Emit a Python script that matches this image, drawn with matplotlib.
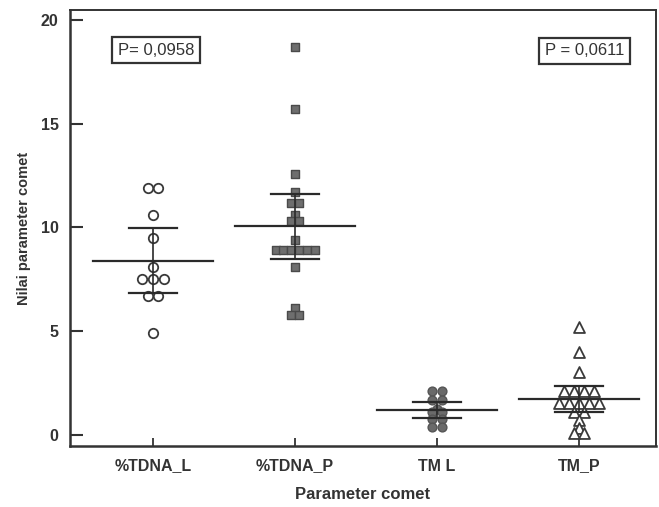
import matplotlib
matplotlib.use("Agg")
import matplotlib.pyplot as plt
import numpy as np

plt.rcParams['font.family'] = ['Liberation Sans', 'DejaVu Sans']

categories = ["%TDNA_L", "%TDNA_P", "TM L", "TM_P"]

tdna_l = [11.9, 11.9, 10.6, 9.5, 8.1, 7.5, 7.5, 7.5, 6.7, 6.7, 4.9]
tdna_p = [18.7, 15.7, 12.6, 11.7, 11.2, 11.2, 10.6, 10.3, 10.3, 9.4,
          8.9, 8.9, 8.9, 8.9, 8.9, 8.9, 8.1, 6.1, 5.8, 5.8]
tm_l = [2.1, 2.1, 1.7, 1.7, 1.25, 1.1, 1.1, 0.75, 0.75, 0.4, 0.4]
tm_p = [5.2, 4.0, 3.05, 2.1, 2.1, 2.1, 2.1, 1.55, 1.55, 1.55, 1.55, 1.55,
        1.1, 1.1, 0.7, 0.35, 0.1, 0.1]

means = [8.4, 10.05, 1.2, 1.72]
upper = [9.98, 11.62, 1.6, 2.35]
lower = [6.84, 8.5, 0.82, 1.1]

p_left = "P= 0,0958"
p_right = "P = 0,0611"

groups = [tdna_l, tdna_p, tm_l, tm_p]
styles = [
    dict(marker='o', s=46, facecolors='white', edgecolors='#3a3a3a', linewidths=1.3),
    dict(marker='s', s=34, facecolors='#6e6e6e', edgecolors='#4a4a4a', linewidths=1.0),
    dict(marker='o', s=40, facecolors='#6a6a6a', edgecolors='#555555', linewidths=1.0),
    dict(marker='^', s=62, facecolors='white', edgecolors='#3a3a3a', linewidths=1.3),
]
spacing = [0.075, 0.055, 0.07, 0.07]

fig = plt.figure(figsize=(6.59, 5.07), dpi=100)
ax = fig.add_axes([0.106, 0.1203, 0.889, 0.8600])

for i, (vals, st) in enumerate(zip(groups, styles)):
    xc = i + 1
    vals = np.asarray(vals)
    xs = np.zeros(len(vals))
    uniq = []
    for v in vals:
        if v not in uniq:
            uniq.append(v)
    for u in uniq:
        idx = np.where(vals == u)[0]
        n = len(idx)
        for k, j in enumerate(idx):
            xs[j] = xc + (k - (n - 1) / 2) * spacing[i]
    ax.scatter(xs, vals, zorder=3, **st)

lc = '#2a2a2a'
for i in range(4):
    xc = i + 1
    ax.plot([xc - 0.42, xc + 0.42], [means[i]] * 2, color=lc, lw=1.6, zorder=4)
    ax.plot([xc - 0.17, xc + 0.17], [upper[i]] * 2, color=lc, lw=1.6, zorder=4)
    ax.plot([xc - 0.17, xc + 0.17], [lower[i]] * 2, color=lc, lw=1.6, zorder=4)
    ax.plot([xc, xc], [lower[i], upper[i]], color=lc, lw=1.2, zorder=4)

ax.set_xlim(0.414, 4.54)
ax.set_ylim(-0.53, 20.48)
ax.set_xticks([1, 2, 3, 4])
ax.set_xticklabels(categories)
ax.set_yticks([0, 5, 10, 15, 20])

tc = '#333333'
ax.tick_params(axis='y', direction='in', length=9, width=1.5, colors=tc,
               labelsize=11.5, pad=8)
ax.tick_params(axis='x', direction='in', length=6, width=1.3, colors=tc,
               labelsize=11.5, pad=9)
for lab in ax.get_xticklabels() + ax.get_yticklabels():
    lab.set_fontweight('bold')
    lab.set_color(tc)

for sp in ax.spines.values():
    sp.set_color('#333333')
ax.spines['left'].set_linewidth(1.8)
ax.spines['bottom'].set_linewidth(1.8)
ax.spines['top'].set_linewidth(1.4)
ax.spines['right'].set_linewidth(1.4)

ax.set_xlabel("Parameter comet", fontsize=12, fontweight='bold', color=tc, labelpad=10)
ax.set_ylabel("Nilai parameter comet", fontsize=10.5, fontweight='bold', color=tc, labelpad=7)

bbox = dict(boxstyle='square,pad=0.35', facecolor='white', edgecolor='#333333', linewidth=1.6)
ax.text(0.147, 0.908, p_left, transform=ax.transAxes, ha='center', va='center',
        fontsize=12, color=tc, bbox=bbox)
ax.text(0.879, 0.906, p_right, transform=ax.transAxes, ha='center', va='center',
        fontsize=12, color=tc, bbox=bbox)

fig.savefig("out.png", dpi=100)
